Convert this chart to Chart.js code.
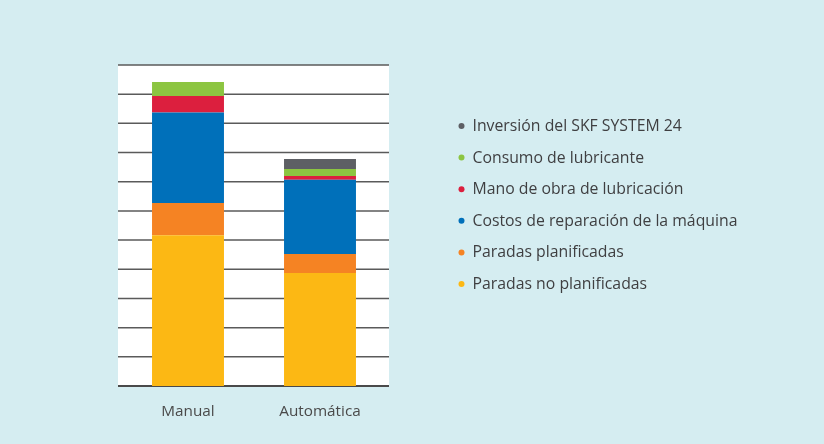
<!DOCTYPE html>
<html><head><meta charset="utf-8">
<script src="https://cdn.jsdelivr.net/npm/chart.js@4.4.0/dist/chart.umd.min.js"></script>
<style>
html,body{margin:0;padding:0;background:#d5edf1;overflow:hidden;}
#wrap{width:824px;height:444px;position:relative;}
</style></head><body>
<div id="wrap"><canvas id="c"></canvas></div>
<script>
// ---- data ----
const categories = ['Manual', 'Automática'];
const seriesNames = [
  'Paradas no planificadas',
  'Paradas planificadas',
  'Costos de reparación de la máquina',
  'Mano de obra de lubricación',
  'Consumo de lubricante',
  'Inversión del SKF SYSTEM 24'
];
const paradasNoPlanificadas = [51.7, 38.7];
const paradasPlanificadas   = [11.0, 6.5];
const costosReparacion      = [31.0, 25.5];
const manoDeObra            = [5.7, 1.3];
const consumoLubricante     = [4.8, 2.4];
const inversionSKF          = [0, 3.4];
const yTickValues = [0, 10, 20, 30, 40, 50, 60, 70, 80, 90, 100, 110];

// ---- styles ----
const seriesColors = ['#fcb814', '#f58323', '#0070ba', '#dc1f3e', '#8cc541', '#5d5f64'];
const seriesValues = [paradasNoPlanificadas, paradasPlanificadas, costosReparacion, manoDeObra, consumoLubricante, inversionSKF];

// white plot panel + horizontal rules, slightly wider than the bar band
const plotPanel = {
  id: 'plotPanel',
  beforeDatasetsDraw(chart, args, opts) {
    const {ctx, chartArea: a, scales: {y}} = chart;
    const l = a.left - opts.extLeft, r = a.right + opts.extRight;
    ctx.save();
    ctx.fillStyle = '#ffffff';
    ctx.fillRect(l, a.top, r - l, a.bottom - a.top);
    ctx.strokeStyle = opts.gridColor;
    ctx.lineWidth = opts.gridWidth;
    yTickValues.forEach(v => {
      const py = y.getPixelForValue(v);
      ctx.beginPath();
      ctx.moveTo(l, py);
      ctx.lineTo(r, py);
      ctx.stroke();
    });
    const by = y.getPixelForValue(0);
    ctx.strokeStyle = opts.axisColor;
    ctx.lineWidth = opts.axisWidth;
    ctx.beginPath();
    ctx.moveTo(l, by);
    ctx.lineTo(r, by);
    ctx.stroke();
    ctx.restore();
  }
};

const dotLegend = {
  id: 'dotLegend',
  afterDraw(chart, args, opts) {
    const {ctx} = chart;
    const ds = chart.data.datasets.slice().reverse();
    ctx.save();
    ctx.font = opts.font;
    ctx.textBaseline = 'middle';
    ctx.textAlign = 'left';
    ds.forEach((d, i) => {
      const y = opts.y + i * opts.spacing;
      ctx.beginPath();
      ctx.fillStyle = d.backgroundColor;
      ctx.arc(opts.x, y, opts.r, 0, Math.PI * 2);
      ctx.fill();
      ctx.fillStyle = opts.color;
      ctx.fillText(d.label, opts.x + opts.gap, y + 0.5);
    });
    ctx.restore();
  }
};

new Chart(document.getElementById('c'), {
  type: 'bar',
  data: {
    labels: categories,
    datasets: seriesNames.map((n, i) => ({
      label: n,
      data: seriesValues[i],
      backgroundColor: seriesColors[i],
      borderWidth: 0,
      barPercentage: 0.545,
      categoryPercentage: 1.0
    }))
  },
  options: {
    responsive: true,
    maintainAspectRatio: false,
    animation: false,
    layout: {padding: {left: 122, right: 438, top: 65, bottom: 0}},
    plugins: {
      legend: {display: false},
      tooltip: {enabled: false},
      plotPanel: {extLeft: 4, extRight: 3, gridColor: '#5a5a5a', gridWidth: 1.5, axisColor: '#4a4a4a', axisWidth: 2},
      dotLegend: {x: 461.5, y: 126, spacing: 31.6, r: 3, gap: 11, font: '15.8px "Open Sans"', color: '#3f3f41'}
    },
    scales: {
      x: {
        stacked: true,
        grid: {display: false, drawTicks: false},
        border: {display: false},
        ticks: {padding: 16, color: '#4a4a4a', font: {family: '"Open Sans"', size: 15.3}},
        afterFit(s) { s.height = 58; }
      },
      y: {
        stacked: true,
        min: 0,
        max: 110,
        afterBuildTicks(s) { s.ticks = yTickValues.map(v => ({value: v})); },
        ticks: {display: false},
        grid: {display: false, drawTicks: false},
        border: {display: false},
        afterFit(s) { s.width = 0; }
      }
    }
  },
  plugins: [plotPanel, dotLegend]
});
</script>
</body></html>
